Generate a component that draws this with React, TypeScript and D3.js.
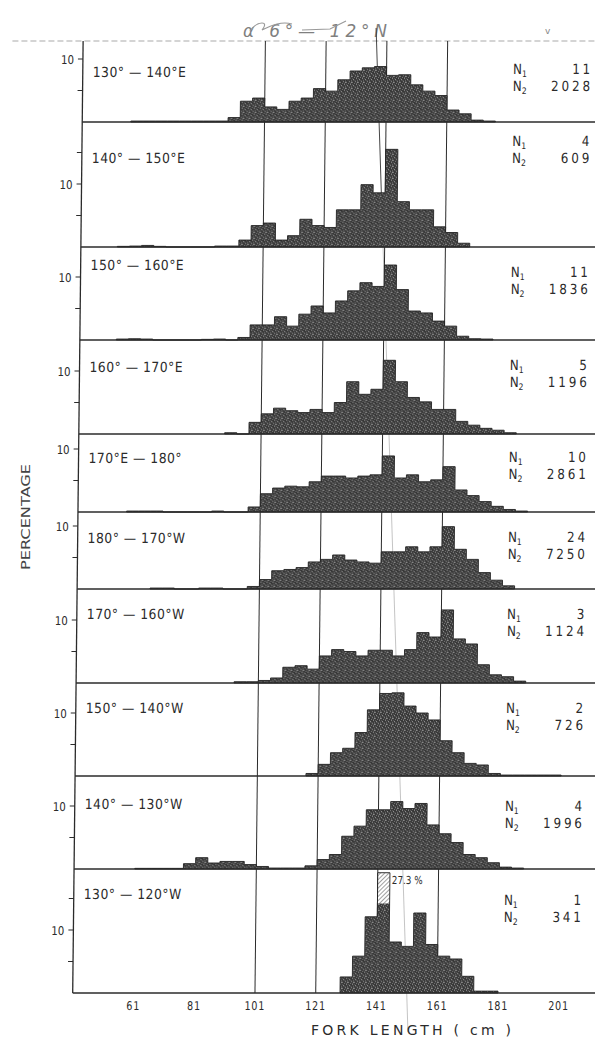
import React from "react";
import * as d3 from "d3";

// ---------------- data ----------------
const BIN_WIDTH = 4; // cm classes

const regionLabels = [
  "130° — 140°E",
  "140° — 150°E",
  "150° — 160°E",
  "160° — 170°E",
  "170°E — 180°",
  "180° — 170°W",
  "170° — 160°W",
  "150° — 140°W",
  "140° — 130°W",
  "130° — 120°W",
];
const n1Counts = [11, 4, 11, 5, 10, 24, 3, 2, 4, 1];
const n2Counts = [2028, 609, 1836, 1196, 2861, 7250, 1124, 726, 1996, 341];
const firstBinLower = [57, 53, 53, 89, 57, 65, 93, 117, 61, 129];

const pct130E140E = [0.15, 0.15, 0.15, 0.15, 0.15, 0.15, 0.15, 0.15, 0.7, 3.3, 3.8, 2.4, 2.0, 3.3, 3.8, 5.3, 4.9, 6.7, 8.1, 8.6, 8.8, 7.4, 7.5, 5.9, 4.9, 4.2, 1.9, 1.3, 0.3, 0.15];
const pct140E150E = [0.1, 0.15, 0.25, 0.1, 0, 0, 0, 0, 0.15, 0.15, 1.1, 3.4, 3.8, 1.1, 1.8, 4.4, 3.4, 3.1, 5.9, 5.9, 9.9, 8.6, 15.5, 7.2, 5.9, 5.9, 3.2, 2.3, 0.6];
const pct150E160E = [0.15, 0.2, 0.15, 0, 0, 0, 0, 0.1, 0.15, 0, 0.4, 2.4, 2.4, 3.7, 2.2, 4.1, 5.4, 4.3, 6.2, 7.8, 9.1, 8.5, 11.9, 8.0, 4.6, 4.3, 3.0, 2.2, 0.6, 0.2, 0.15];
const pct160E170E = [0.2, 0, 1.85, 3.2, 4.1, 3.7, 3.4, 3.9, 3.4, 5.0, 8.3, 6.3, 7.1, 11.7, 8.3, 5.8, 5.1, 3.9, 3.9, 2.0, 1.4, 0.9, 0.6, 0.2];
const pct170E180 = [0.15, 0.15, 0.15, 0, 0, 0, 0, 0.15, 0, 0, 0.8, 2.9, 3.8, 4.1, 4.0, 4.8, 5.7, 5.7, 5.4, 5.7, 5.9, 8.9, 5.4, 5.9, 4.8, 5.1, 7.2, 3.5, 2.6, 1.65, 0.9, 0.4, 0.15];
const pct180W170W = [0.15, 0.15, 0, 0, 0.15, 0.15, 0, 0, 0.4, 1.5, 2.9, 3.1, 3.4, 4.3, 4.7, 5.4, 4.6, 4.3, 4.1, 5.9, 5.9, 6.7, 5.9, 6.7, 9.9, 6.3, 4.7, 2.6, 1.4, 0.5];
const pct170W160W = [0.2, 0.2, 0.4, 0.8, 2.5, 2.75, 2.2, 4.3, 5.3, 5.0, 4.3, 5.2, 5.2, 4.3, 5.3, 8.0, 7.3, 11.6, 7.0, 6.2, 2.9, 1.3, 1.0, 0.3];
const pct150W140W = [0.4, 1.85, 3.7, 4.4, 6.9, 10.5, 13.1, 13.2, 11.1, 10.0, 8.9, 5.6, 3.7, 2.0, 1.75, 0.4, 0.15, 0.15, 0.15, 0.15, 0.15];
const pct140W130W = [0.1, 0.1, 0.1, 0.1, 0.85, 1.8, 0.95, 1.2, 1.2, 0.7, 0.4, 0.15, 0.15, 0.15, 0.5, 1.5, 2.3, 5.2, 6.8, 9.4, 9.4, 10.7, 9.6, 10.4, 7.0, 5.6, 4.2, 2.3, 1.8, 1.0, 0.3, 0.15];
const pct130W120W = [2.55, 5.85, 12.1, 27.3, 8.1, 7.4, 12.7, 7.7, 5.85, 5.4, 2.65, 0.3, 0.3];

const panelSeries = [
  pct130E140E, pct140E150E, pct150E160E, pct160E170E, pct170E180,
  pct180W170W, pct170W160W, pct150W140W, pct140W130W, pct130W120W,
];

const xTickValues = [61, 81, 101, 121, 141, 161, 181, 201];
const referenceLengths = [101, 121, 141, 161];
const yTickStep = 5;
const yLabelValue = 10;

// ---------------- layout ----------------
const W = 595;
const H = 1040;
const FIG_TOP = 41;
const panelBaselines = [122, 247, 340, 434, 512, 589, 683, 776, 869, 993];
const PX_PER_PCT = 6.3;
const SHEAR = 0.01095;
const labelDy = [31, 36, 18, 27, 24, 26, 25, 25, 28, 25];
const nDy = [28, 19, 25, 25, 23, 25, 25, 25, 30, 31];
const HATCH_SPAN = 4.8;
const INK = "#2b2b2b";
const FONT = "'DejaVu Sans', 'Liberation Sans', sans-serif";

const speckles: [number, number, string][] = [
  [1, 1, "#b4b4b4"], [4, 0, "#8a8a8a"], [3, 3, "#a8a8a8"], [0, 4, "#909090"],
  [5, 4, "#b0b0b0"], [2, 5, "#7a7a7a"], [5, 2, "#858585"], [0, 0, "#5a5a5a"],
  [2, 2, "#606060"], [4, 5, "#656565"],
];

function Txt(props: {
  x: number; y: number; size: number; sx?: number; anchor?: string;
  spacing?: number; fill?: string; children: React.ReactNode;
}) {
  const { x, y, size, sx = 1, anchor = "start", spacing = 0, fill = INK, children } = props;
  return (
    <text
      transform={`translate(${x},${y}) scale(${sx},1)`}
      fontSize={size}
      fontFamily={FONT}
      textAnchor={anchor}
      letterSpacing={spacing}
      fill={fill}
    >
      {children}
    </text>
  );
}

export default function App() {
  const x = d3.scaleLinear().domain([41, 213]).range([72.7, 595.2]);
  const axisX = x(41);
  const bottom = panelBaselines[panelBaselines.length - 1];
  const skew = `translate(${(SHEAR * bottom).toFixed(2)},0) skewX(${(-Math.atan(SHEAR) * 180 / Math.PI).toFixed(4)})`;

  const panels = panelSeries.map((vals, i) => {
    const top = i === 0 ? FIG_TOP : panelBaselines[i - 1];
    const base = panelBaselines[i];
    const y = d3.scaleLinear().domain([0, 10]).range([base, base - 10 * PX_PER_PCT]);
    const maxPct = y.invert(top);
    const cap = maxPct - 0.6;
    const bins = vals.map((v, j) => ({ lo: firstBinLower[i] + j * BIN_WIDTH, v }));
    const pts: [number, number][] = [[bins[0].lo, 0]];
    bins.forEach((b) => {
      const h = Math.min(b.v, cap);
      pts.push([b.lo, h]);
      pts.push([b.lo + BIN_WIDTH, h]);
    });
    pts.push([bins[bins.length - 1].lo + BIN_WIDTH, 0]);
    const outline = d3.line<[number, number]>().x((d) => x(d[0])).y((d) => y(d[1]))(pts) || "";
    const broken = bins.filter((b) => b.v > cap);
    const ticks = d3.range(yTickStep, maxPct, yTickStep);
    return { i, top, base, y, cap, bins, outline, broken, ticks };
  });

  const pencil = d3.interpolateNumber(137.4, 151.5);
  const pencilY0 = 28;
  const pencilY1 = 1032;
  const splitY = panelBaselines[1];
  const tSplit = (splitY - pencilY0) / (pencilY1 - pencilY0);

  return (
    <svg
      width={W}
      height={H}
      viewBox={`0 0 ${W} ${H}`}
      style={{ position: "absolute", left: 0, top: 0, background: "#fff" }}
    >
      <defs>
        <pattern id="stipple" width="6" height="6" patternUnits="userSpaceOnUse">
          <rect width="6" height="6" fill="#363636" />
          {speckles.map(([sx, sy, c], k) => (
            <rect key={k} x={sx} y={sy} width="1" height="1" fill={c} />
          ))}
        </pattern>
        <pattern id="hatch" width="3" height="3" patternUnits="userSpaceOnUse" patternTransform="rotate(45)">
          <rect width="3" height="3" fill="#fff" />
          <line x1="0" y1="0" x2="0" y2="3" stroke="#444" strokeWidth="1" />
        </pattern>
      </defs>

      {/* handwritten title */}
      <g opacity={0.75}>
        <text x={243} y={37} fontSize={17} fontFamily={FONT} fontStyle="italic" fill="#555" textLength={144} lengthAdjust="spacing">
          α  6°— 12°N
        </text>
        <path d="M 250 31 C 258 20, 270 21, 262 30 C 272 25, 282 21, 292 24" fill="none" stroke="#777" strokeWidth={1.1} />
        <path d="M 302 30 L 330 29 L 346 21" fill="none" stroke="#777" strokeWidth={1.1} />
      </g>
      <text x={545} y={34} fontSize={9} fontFamily={FONT} fill="#888">v</text>

      <g transform={skew}>
        {/* top dashed border */}
        <line x1={2} x2={W + 10} y1={FIG_TOP} y2={FIG_TOP} stroke="#aaa" strokeWidth={1} strokeDasharray="6 3" />

        {/* reference lines */}
        {referenceLengths.map((v) => (
          <line key={v} x1={x(v)} x2={x(v)} y1={FIG_TOP} y2={bottom} stroke={INK} strokeWidth={1} />
        ))}
        <line x1={x(pencil(0))} y1={pencilY0} x2={x(pencil(tSplit))} y2={splitY} stroke="#333" strokeWidth={0.9} />
        <line x1={x(pencil(tSplit))} y1={splitY} x2={x(pencil(1))} y2={pencilY1} stroke="#aaa" strokeWidth={0.7} />

        {/* histograms */}
        {panels.map((p) => (
          <g key={p.i}>
            <path d={p.outline + "Z"} fill="url(#stipple)" stroke="#222" strokeWidth={0.9} strokeLinejoin="miter" />
            {p.broken.map((b) => (
              <g key={b.lo}>
                <rect
                  x={x(b.lo) + 0.5}
                  width={x(b.lo + BIN_WIDTH) - x(b.lo) - 1}
                  y={p.y(p.cap) + 0.5}
                  height={p.y(p.cap - HATCH_SPAN) - p.y(p.cap)}
                  fill="url(#hatch)"
                />
                <Txt x={x(b.lo + BIN_WIDTH) + 2} y={p.y(p.cap) + 11} size={11} sx={0.8}>
                  {`${b.v} %`}
                </Txt>
              </g>
            ))}
          </g>
        ))}

        {/* panel baselines */}
        {panelBaselines.map((b, i) => (
          <line key={i} x1={axisX} x2={x(213) + 12} y1={b} y2={b} stroke={INK} strokeWidth={1.3} />
        ))}
        {/* left axis */}
        <line x1={axisX} x2={axisX} y1={FIG_TOP} y2={bottom} stroke={INK} strokeWidth={1.3} />

        {/* y ticks and labels */}
        {panels.map((p) => (
          <g key={`t${p.i}`}>
            {p.ticks.map((t) => (
              <line key={t} x1={axisX - 5} x2={axisX} y1={p.y(t)} y2={p.y(t)} stroke={INK} strokeWidth={1} />
            ))}
            <Txt x={axisX - 9} y={p.y(yLabelValue) + 4.5} size={12} sx={0.85} anchor="end">
              {String(yLabelValue)}
            </Txt>
          </g>
        ))}

        {/* region labels and counts */}
        {panels.map((p) => (
          <g key={`l${p.i}`}>
            <Txt x={axisX + 10} y={p.top + labelDy[p.i] + 5} size={14} sx={0.88} spacing={0.6}>
              {regionLabels[p.i]}
            </Txt>
            <Txt x={503} y={p.top + nDy[p.i] + 5} size={14} sx={0.85}>
              N<tspan fontSize={9} dy={3}>1</tspan>
            </Txt>
            <Txt x={583} y={p.top + nDy[p.i] + 5} size={14} sx={0.85} spacing={3.4} anchor="end">
              {String(n1Counts[p.i])}
            </Txt>
            <Txt x={503} y={p.top + nDy[p.i] + 22} size={14} sx={0.85}>
              N<tspan fontSize={9} dy={3}>2</tspan>
            </Txt>
            <Txt x={583} y={p.top + nDy[p.i] + 22} size={14} sx={0.85} spacing={3.4} anchor="end">
              {String(n2Counts[p.i])}
            </Txt>
          </g>
        ))}

        {/* x tick labels */}
        {xTickValues.map((v) => (
          <Txt key={v} x={x(v)} y={bottom + 17} size={12} sx={0.8} spacing={1} anchor="middle">
            {String(v)}
          </Txt>
        ))}
      </g>

      {/* axis titles */}
      <text
        x={411}
        y={1035}
        fontSize={14}
        fontFamily={FONT}
        fill={INK}
        textAnchor="middle"
        textLength={200}
        lengthAdjust="spacing"
      >
        FORK LENGTH ( cm )
      </text>
      <text
        transform="translate(30,517) rotate(-90)"
        fontSize={13}
        fontFamily={FONT}
        fill="#444"
        textAnchor="middle"
        textLength={106}
        lengthAdjust="spacingAndGlyphs"
      >
        PERCENTAGE
      </text>
    </svg>
  );
}
